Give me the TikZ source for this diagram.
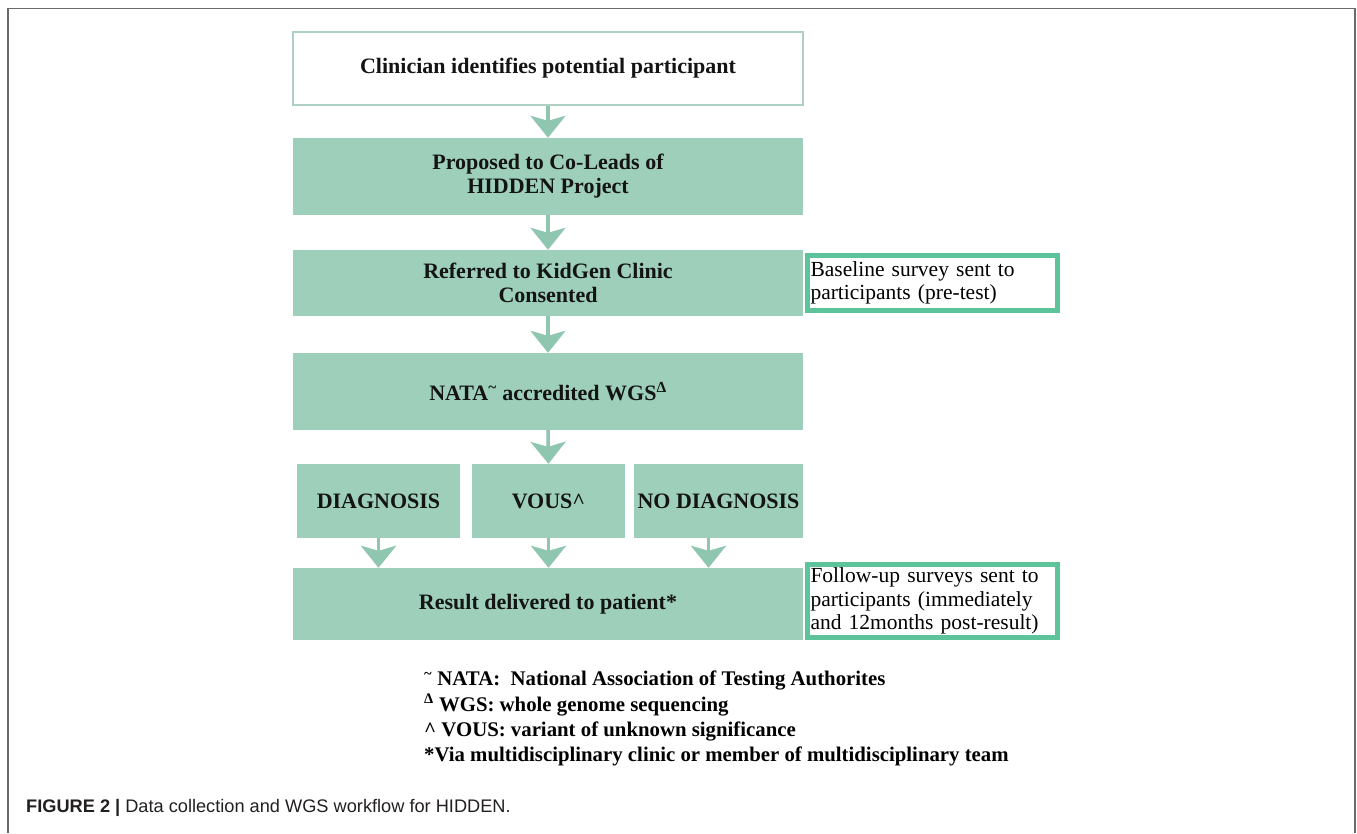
\documentclass[tikz,border=0pt]{standalone}
\usepackage{fontspec}
\setmainfont{Liberation Serif}
\setsansfont{Liberation Sans}
\usetikzlibrary{arrows.meta,calc}
\definecolor{boxg}{HTML}{9DCFBA}
\definecolor{arrg}{HTML}{8EC6AF}
\definecolor{sideg}{HTML}{5CC39A}
\definecolor{framec}{HTML}{6A6A6A}
\definecolor{wbord}{HTML}{AFCFC2}
\definecolor{capc}{HTML}{231F20}
\begin{document}
\begin{tikzpicture}[x=1pt,y=-1pt,
  boxtext/.style={font=\fontsize{22}{24}\selectfont\bfseries, align=center, text=black!92},
  gbox/.style={boxtext, fill=boxg, inner sep=0pt},
  wbox/.style={boxtext, draw=wbord, line width=1.2pt, fill=white, inner sep=0pt},
  sbox/.style={draw=sideg, line width=5pt, fill=white, align=left, inner xsep=3pt, inner ysep=1pt,
    font=\fontsize{21.5}{23.5}\selectfont},
  farrow/.style={draw=arrg, line width=3.5pt, -{Stealth[length=22pt,width=35pt,inset=5pt]}},
]
\useasboundingbox (0,0) rectangle (1357,833);
\draw[framec, line width=1.5pt] (8,833) -- (8,8.5) -- (1355,8.5) -- (1355,833);

\node[wbox, minimum width=510, minimum height=73] (b1) at (548,68.5) {Clinician identifies potential participant};
\node[gbox, minimum width=510, minimum height=77] (b2) at (548,176.5) {Proposed to Co-Leads of\\HIDDEN Project};
\node[gbox, minimum width=510, minimum height=66] (b3) at (548,283) {Referred to KidGen Clinic\\Consented};
\node[gbox, minimum width=510, minimum height=77] (b4) at (548,391.5) {NATA\textsuperscript{\textasciitilde} accredited WGS\textsuperscript{Δ}};
\node[gbox, minimum width=163, minimum height=74] (d1) at (378.5,501) {DIAGNOSIS};
\node[gbox, minimum width=153, minimum height=74] (d2) at (548.5,501) {VOUS\textasciicircum};
\node[gbox, minimum width=169, minimum height=74] (d3) at (718.5,501) {NO DIAGNOSIS};
\node[gbox, minimum width=510, minimum height=72] (r) at (548,604) {Result delivered to patient*};

\node[sbox, text width=244, minimum height=55] (s1) at (932.5,283) {\mbox{Baseline survey sent to}\\\mbox{participants (pre-test)}};
\node[sbox, text width=244, minimum height=73] (s2) at (932.5,601) {\mbox{Follow-up surveys sent to}\\\mbox{participants (immediately}\\\mbox{and 12months post-result)}};

\draw[farrow] (b1.south) -- (b2.north);
\draw[farrow] (b2.south) -- (b3.north);
\draw[farrow] (b3.south) -- (b4.north);
\draw[farrow] (b4.south) -- (d2.north);
\draw[farrow] (d1.south) -- (d1.south |- r.north);
\draw[farrow] (d2.south) -- (d2.south |- r.north);
\draw[farrow] ([xshift=-10pt]d3.south) -- ([xshift=-10pt]d3.south |- r.north);

\node[anchor=north west, align=left, inner sep=0pt, font=\fontsize{20.8}{25.3}\selectfont\bfseries] (fn) at (424,671)
  {\textsuperscript{\textasciitilde} NATA:\ \ National Association of Testing Authorites\\
   \textsuperscript{Δ} WGS: whole genome sequencing\\
   \textasciicircum\ VOUS: variant of unknown significance\\
   *Via multidisciplinary clinic or member of multidisciplinary team};

\node[anchor=base west, inner sep=0pt, text=capc, font=\sffamily\fontsize{18.2}{20}\selectfont] (cap) at (26,812)
  {\textbf{FIGURE 2 |} Data collection and WGS workflow for HIDDEN.};
\end{tikzpicture}
\end{document}
